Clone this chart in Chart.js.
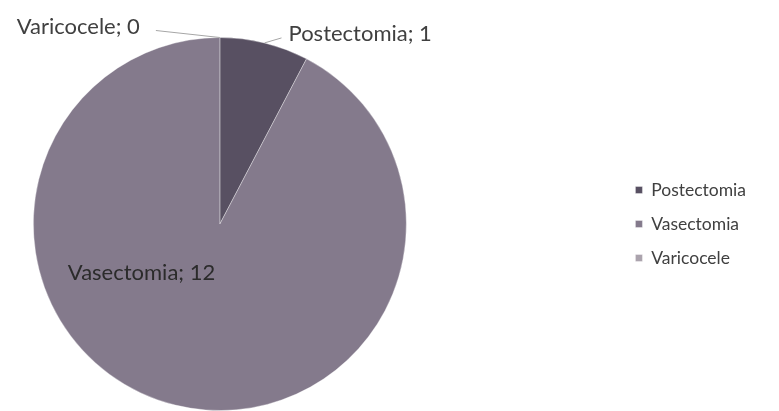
<!DOCTYPE html>
<html>
<head>
<meta charset="utf-8">
<script src="https://cdn.jsdelivr.net/npm/chart.js@4/dist/chart.umd.min.js"></script>
<style>
  html, body { margin: 0; padding: 0; background: #fff; }
  #wrap { width: 779px; height: 411px; }
</style>
</head>
<body>
<div id="wrap"><canvas id="pie" width="779" height="411"></canvas></div>
<script>
const categories = ['Postectomia', 'Vasectomia', 'Varicocele'];
const counts = [1, 12, 0];
const sliceColors = ['#585062', '#847a8c', '#aba3ad'];

// how each data label sits next to its slice (elbow offset of the leader line, or inside)
const labelPlacement = [
  { kind: 'outside', dx: 17, dy: -5, side: 'right' },
  { kind: 'inside', fx: -0.42, fy: 0.26 },
  { kind: 'outside', dx: -64, dy: -7, side: 'left' },
];

const labelFont = '22px Lato, "Open Sans", sans-serif';

const dataLabels = {
  id: 'dataLabels',
  afterDatasetsDraw(chart) {
    const ctx = chart.ctx;
    const arcs = chart.getDatasetMeta(0).data;
    ctx.save();
    ctx.font = labelFont;
    ctx.textBaseline = 'middle';
    arcs.forEach((arc, i) => {
      const { x, y, startAngle, endAngle, outerRadius } = arc.getProps(['x', 'y', 'startAngle', 'endAngle', 'outerRadius'], true);
      const text = categories[i] + '; ' + counts[i];
      const place = labelPlacement[i];
      if (place.kind === 'inside') {
        ctx.fillStyle = '#2b2b2b';
        ctx.textAlign = 'center';
        ctx.fillText(text, x + place.fx * outerRadius, y + place.fy * outerRadius);
        return;
      }
      const mid = (startAngle + endAngle) / 2;
      const ex = x + Math.cos(mid) * outerRadius;
      const ey = y + Math.sin(mid) * outerRadius;
      const lx = ex + place.dx;
      const ly = ey + place.dy;
      ctx.strokeStyle = '#a6a6a6';
      ctx.lineWidth = 1;
      ctx.beginPath();
      ctx.moveTo(ex, ey);
      ctx.lineTo(lx, ly);
      ctx.stroke();
      ctx.fillStyle = '#404040';
      if (place.side === 'right') {
        ctx.textAlign = 'left';
        ctx.fillText(text, lx + 7, ly - 4);
      } else {
        ctx.textAlign = 'right';
        ctx.fillText(text, lx - 16, ly - 4);
      }
    });
    ctx.restore();
  }
};

new Chart(document.getElementById('pie'), {
  type: 'pie',
  data: {
    labels: categories,
    datasets: [{
      data: counts,
      backgroundColor: sliceColors,
      borderColor: 'rgba(255,255,255,0.35)',
      borderWidth: 1,
    }],
  },
  options: {
    responsive: false,
    animation: false,
    layout: { padding: { left: 32, top: 37, bottom: 0, right: 23 } },
    plugins: {
      tooltip: { enabled: false },
      title: {
        display: true,
        text: ' ',
        position: 'right',
        weight: 0,
        fullSize: false,
        font: { size: 1 },
        padding: { top: 0, bottom: 210 },
      },
      legend: {
        position: 'right',
        align: 'center',
        labels: {
          boxWidth: 7,
          boxHeight: 7,
          padding: 16.5,
          color: '#404040',
          font: { family: 'Lato, "Open Sans", sans-serif', size: 17.5 },
        },
      },
    },
  },
  plugins: [dataLabels],
});
</script>
</body>
</html>
